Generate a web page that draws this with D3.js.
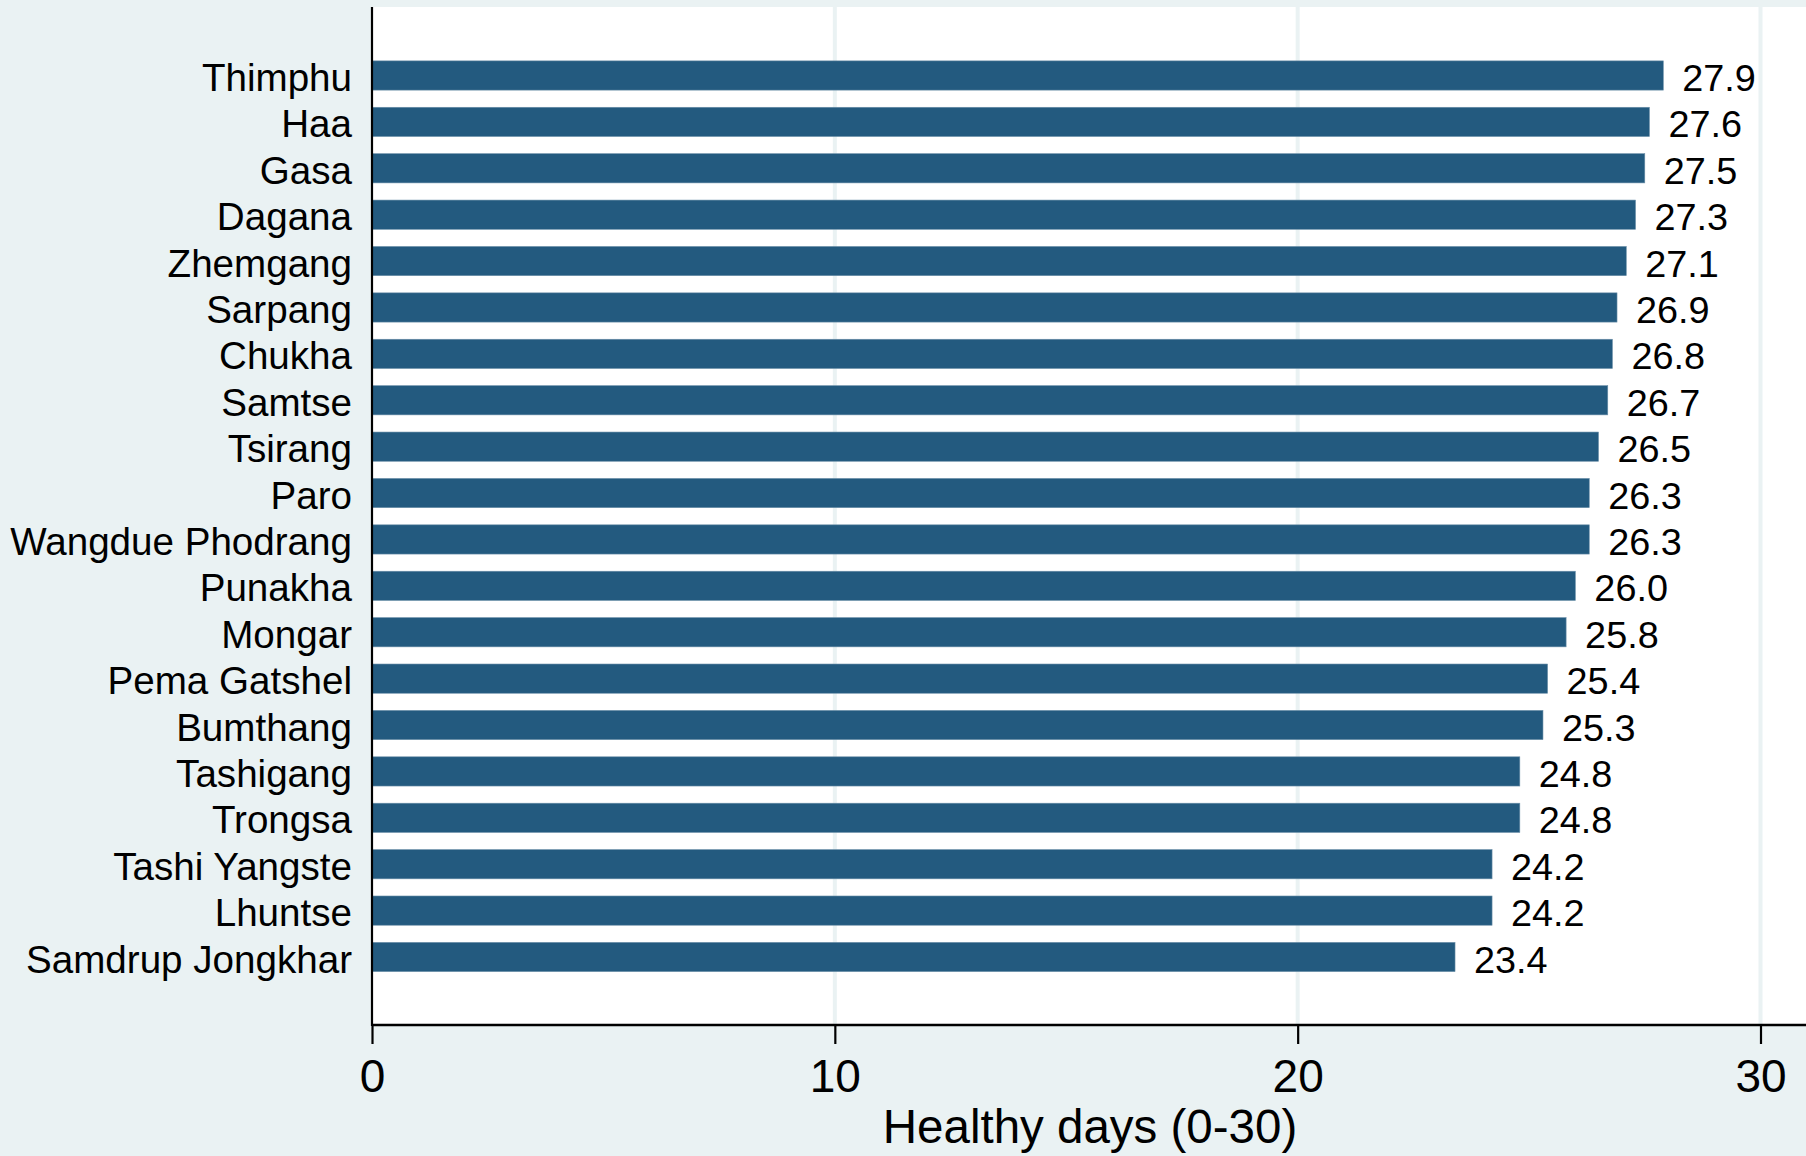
<!DOCTYPE html>
<html>
<head>
<meta charset="utf-8">
<script src="https://cdn.jsdelivr.net/npm/d3@7"></script>
<style>
html,body{margin:0;padding:0;background:#eaf2f3;}
svg{display:block;}
text{font-family:"Liberation Sans",Arial,Helvetica,sans-serif;fill:#000;}
</style>
</head>
<body>
<svg id="chart" width="1806" height="1156"></svg>
<script>
const districts = ["Thimphu","Haa","Gasa","Dagana","Zhemgang","Sarpang","Chukha","Samtse","Tsirang","Paro","Wangdue Phodrang","Punakha","Mongar","Pema Gatshel","Bumthang","Tashigang","Trongsa","Tashi Yangste","Lhuntse","Samdrup Jongkhar"];
const healthyDays = [27.9,27.6,27.5,27.3,27.1,26.9,26.8,26.7,26.5,26.3,26.3,26.0,25.8,25.4,25.3,24.8,24.8,24.2,24.2,23.4];
const xTicks = [0,10,20,30];
const xTitle = "Healthy days (0-30)";

const W = 1806, H = 1156;
const svg = d3.select("#chart");
svg.append("rect").attr("width",W).attr("height",H).attr("fill","#eaf2f3");

const plot = {left:372, top:7, right:1806, bottom:1025};
svg.append("rect").attr("x",plot.left).attr("y",plot.top)
  .attr("width",plot.right-plot.left).attr("height",plot.bottom-plot.top)
  .attr("fill","#ffffff");

const x = d3.scaleLinear().domain([0,30]).range([372,1760.5]);
const y = d3.scaleBand().domain(districts).range([52.3,980.2]).paddingInner(0.37).paddingOuter(0.185);

// gridlines
svg.append("g").selectAll("line").data(xTicks.filter(d=>d>0)).join("line")
  .attr("x1",d=>x(d)).attr("x2",d=>x(d)).attr("y1",plot.top).attr("y2",plot.bottom)
  .attr("stroke","#eaf2f3").attr("stroke-width",4);

const data = districts.map((d,i)=>({name:d,value:healthyDays[i]}));

// bars
svg.append("g").selectAll("rect").data(data).join("rect")
  .attr("x",x(0)).attr("y",d=>y(d.name))
  .attr("width",d=>x(d.value)-x(0)).attr("height",y.bandwidth())
  .attr("fill","#235a7f").attr("stroke","#6b8fa8").attr("stroke-width",0.6);

// value labels
svg.append("g").selectAll("text").data(data).join("text")
  .attr("x",d=>x(d.value)+19).attr("y",d=>y(d.name)+y.bandwidth()/2+15.5)
  .attr("font-size",37.8).text(d=>d.value.toFixed(1));

// category labels
const yAxis = d3.axisLeft(y).tickSize(0).tickPadding(0);
const gy = svg.append("g").attr("transform",`translate(${plot.left},0)`).call(yAxis);
gy.select(".domain").remove();
gy.selectAll("text").attr("x",-20).attr("dy",null).attr("y",15.5)
  .attr("font-size",38.6).attr("font-family",'"Liberation Sans",Arial,Helvetica,sans-serif').attr("fill","#000");

// x axis
const xAxis = d3.axisBottom(x).tickValues(xTicks).tickSize(19).tickPadding(0).tickFormat(d3.format("d"));
const gx = svg.append("g").attr("transform",`translate(0,${plot.bottom})`).call(xAxis);
gx.select(".domain").remove();
gx.selectAll(".tick line").attr("stroke","#000").attr("stroke-width",2.2);
gx.selectAll("text").attr("dy",null).attr("y",67).attr("font-size",46)
  .attr("font-family",'"Liberation Sans",Arial,Helvetica,sans-serif').attr("fill","#000");

// axis lines
svg.append("line").attr("x1",plot.left).attr("x2",plot.right).attr("y1",plot.bottom).attr("y2",plot.bottom)
  .attr("stroke","#000").attr("stroke-width",2.6);
svg.append("line").attr("x1",plot.left).attr("x2",plot.left).attr("y1",plot.top).attr("y2",plot.bottom+1)
  .attr("stroke","#000").attr("stroke-width",2.2);

// title
svg.append("text").attr("x",1090).attr("y",1143).attr("text-anchor","middle")
  .attr("font-size",47.5).text(xTitle);
</script>
</body>
</html>
